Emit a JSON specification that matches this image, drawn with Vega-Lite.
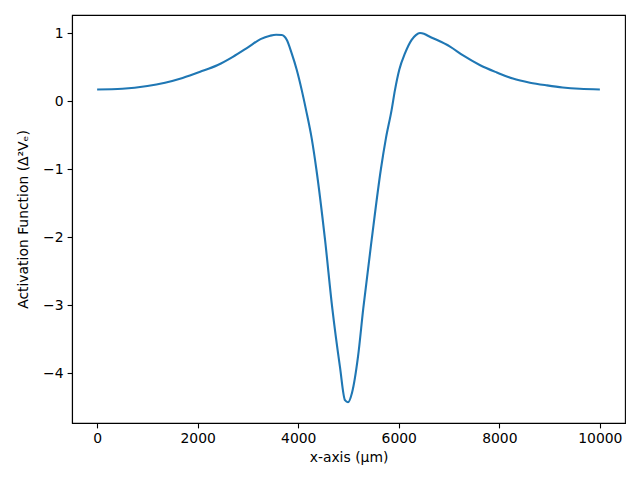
{
  "$schema": "https://vega.github.io/schema/vega-lite/v6.json",
  "width": 553,
  "height": 408,
  "autosize": {"type": "none"},
  "padding": {"left": 72, "top": 15, "right": 15, "bottom": 57},
  "background": "white",
  "config": {
    "font": "DejaVu Sans",
    "view": {"stroke": "black", "strokeWidth": 1.1},
    "axis": {
      "grid": false,
      "domainColor": "black",
      "domainWidth": 1.1,
      "tickColor": "black",
      "tickWidth": 1.1,
      "tickSize": 4.9,
      "labelPadding": 4,
      "labelFontSize": 13.9,
      "labelColor": "black",
      "labelFont": "DejaVu Sans",
      "titleFont": "DejaVu Sans",
      "titleFontSize": 13.9,
      "titleFontWeight": "normal",
      "titleColor": "black"
    }
  },
  "data": {
    "values": [
      {"x": 0, "af": 0.17},
      {"x": 500, "af": 0.18},
      {"x": 1000, "af": 0.22},
      {"x": 1350, "af": 0.27},
      {"x": 1700, "af": 0.34},
      {"x": 2050, "af": 0.43},
      {"x": 2400, "af": 0.53},
      {"x": 2700, "af": 0.65},
      {"x": 3000, "af": 0.79},
      {"x": 3250, "af": 0.91},
      {"x": 3440, "af": 0.96},
      {"x": 3560, "af": 0.975},
      {"x": 3672, "af": 0.97},
      {"x": 3771, "af": 0.9},
      {"x": 3870, "af": 0.7},
      {"x": 3970, "af": 0.46},
      {"x": 4070, "af": 0.16},
      {"x": 4155, "af": -0.13},
      {"x": 4268, "af": -0.55},
      {"x": 4360, "af": -1.0},
      {"x": 4533, "af": -2.04},
      {"x": 4678, "af": -3.05},
      {"x": 4830, "af": -3.91},
      {"x": 4930, "af": -4.4},
      {"x": 4990, "af": -4.43},
      {"x": 5070, "af": -4.29},
      {"x": 5189, "af": -3.76},
      {"x": 5294, "af": -3.05},
      {"x": 5461, "af": -2.04},
      {"x": 5645, "af": -1.0},
      {"x": 5744, "af": -0.55},
      {"x": 5858, "af": -0.13},
      {"x": 5924, "af": 0.16},
      {"x": 6010, "af": 0.46},
      {"x": 6123, "af": 0.7},
      {"x": 6256, "af": 0.9},
      {"x": 6340, "af": 0.97},
      {"x": 6421, "af": 1.0},
      {"x": 6500, "af": 0.99},
      {"x": 6580, "af": 0.96},
      {"x": 7020, "af": 0.8},
      {"x": 7280, "af": 0.67},
      {"x": 7610, "af": 0.53},
      {"x": 7950, "af": 0.42},
      {"x": 8270, "af": 0.33},
      {"x": 8610, "af": 0.27},
      {"x": 8950, "af": 0.23},
      {"x": 9260, "af": 0.2},
      {"x": 9600, "af": 0.18},
      {"x": 10000, "af": 0.17}
    ]
  },
  "mark": {"type": "line", "color": "#1f77b4", "strokeWidth": 2.1, "interpolate": "monotone", "clip": true},
  "encoding": {
    "x": {
      "field": "x",
      "type": "quantitative",
      "scale": {"domain": [-500, 10500], "nice": false, "zero": false},
      "axis": {"values": [0, 2000, 4000, 6000, 8000, 10000], "format": "d", "title": "x-axis (μm)", "titlePadding": 5, "labelFlush": false}
    },
    "y": {
      "field": "af",
      "type": "quantitative",
      "scale": {"domain": [-4.735, 1.265], "nice": false, "zero": false},
      "axis": {
        "values": [-4, -3, -2, -1, 0, 1],
        "title": "Activation Function (Δ²Vₑ)",
        "titlePadding": 12,
        "labelFlush": false,
        "labelExpr": "replace(datum.label, '-', '−')"
      }
    }
  }
}
